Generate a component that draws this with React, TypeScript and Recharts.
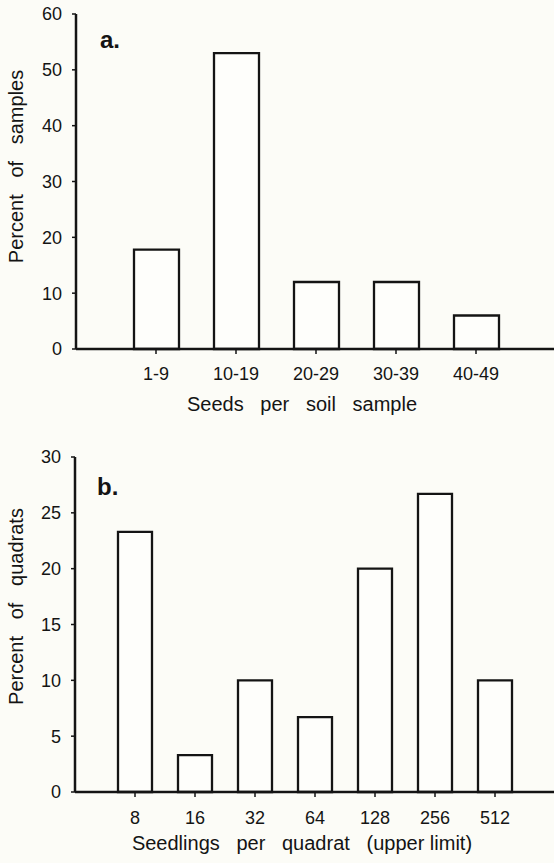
import { Bar, BarChart, Label, XAxis, YAxis } from 'recharts'

// panel a
const seedBins = ['1-9', '10-19', '20-29', '30-39', '40-49']
const seedPercents = [17.8, 53, 12, 12, 6]
const seedTicks = [0, 10, 20, 30, 40, 50, 60]

// panel b
const seedlingBins = ['8', '16', '32', '64', '128', '256', '512']
const seedlingPercents = [23.3, 3.3, 10, 6.7, 20, 26.7, 10]
const quadratTicks = [0, 5, 10, 15, 20, 25, 30]

const FONT = '"Liberation Sans", Arial, sans-serif'
const INK = '#141414'
const BG = '#fcfcf7'
const GAP = '\u00a0\u00a0 '

const seedData = seedBins.map((bin, i) => ({ bin, value: seedPercents[i] }))
const seedlingData = seedlingBins.map((bin, i) => ({ bin, value: seedlingPercents[i] }))

const tickStyle = { fontSize: 18, fill: INK, fontFamily: FONT }
const labelStyle = { fontSize: 20, fill: INK, fontFamily: FONT }

export default function App() {
  return (
    <div
      style={{
        position: 'absolute',
        left: 0,
        top: 0,
        width: 554,
        height: 863,
        background: BG,
        fontFamily: FONT,
      }}
    >
      <BarChart
        width={554}
        height={420}
        data={seedData}
        margin={{ top: 14, right: 0, bottom: 0, left: 0 }}
      >
        <XAxis
          dataKey="bin"
          height={71}
          padding={{ left: 40, right: 38 }}
          stroke={INK}
          strokeWidth={2.5}
          tickSize={5}
          tickMargin={13}
          tick={tickStyle}
          tickLine={{ stroke: INK, strokeWidth: 1.5 }}
        >
          <Label
            value={['Seeds', 'per', 'soil', 'sample'].join(GAP)}
            position="insideBottom"
            offset={9}
            dx={-13}
            style={labelStyle}
          />
        </XAxis>
        <YAxis
          width={76}
          domain={[0, 60]}
          ticks={seedTicks}
          interval={0}
          stroke={INK}
          strokeWidth={2.5}
          tickSize={4}
          tickMargin={10}
          tick={tickStyle}
          tickLine={{ stroke: INK, strokeWidth: 1.5 }}
        >
          <Label
            value={['Percent', 'of', 'samples'].join(GAP)}
            angle={-90}
            position="center"
            dx={-22.5}
            dy={-15}
            style={labelStyle}
          />
        </YAxis>
        <Bar
          dataKey="value"
          barSize={45}
          fill="#fefefb"
          stroke={INK}
          strokeWidth={2.3}
          isAnimationActive={false}
        />
        <text x={100} y={48} fontSize={24} fontWeight="bold" fill={INK} fontFamily={FONT}>
          a.
        </text>
      </BarChart>
      <BarChart
        width={554}
        height={443}
        data={seedlingData}
        margin={{ top: 37, right: 0, bottom: 0, left: 0 }}
      >
        <XAxis
          dataKey="bin"
          height={71}
          padding={{ left: 30, right: 29 }}
          stroke={INK}
          strokeWidth={2.5}
          tickSize={5}
          tickMargin={14}
          tick={tickStyle}
          tickLine={{ stroke: INK, strokeWidth: 1.5 }}
        >
          <Label
            value={['Seedlings', 'per', 'quadrat', '(upper limit)'].join(GAP)}
            position="insideBottom"
            offset={13}
            dx={-12.5}
            style={labelStyle}
          />
        </XAxis>
        <YAxis
          width={75}
          domain={[0, 30]}
          ticks={quadratTicks}
          interval={0}
          stroke={INK}
          strokeWidth={2.5}
          tickSize={4}
          tickMargin={10}
          tick={tickStyle}
          tickLine={{ stroke: INK, strokeWidth: 1.5 }}
        >
          <Label
            value={['Percent', 'of', 'quadrats'].join(GAP)}
            angle={-90}
            position="center"
            dx={-22}
            dy={-18}
            style={labelStyle}
          />
        </YAxis>
        <Bar
          dataKey="value"
          barSize={34}
          fill="#fefefb"
          stroke={INK}
          strokeWidth={2.3}
          isAnimationActive={false}
        />
        <text x={97} y={75} fontSize={24} fontWeight="bold" fill={INK} fontFamily={FONT}>
          b.
        </text>
      </BarChart>
    </div>
  )
}
